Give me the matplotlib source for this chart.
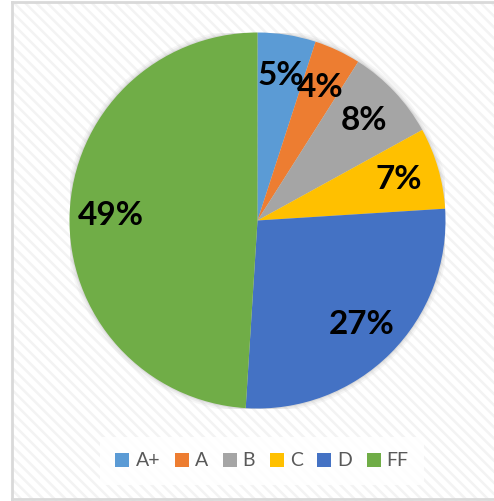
import matplotlib
matplotlib.use("Agg")
import matplotlib.pyplot as plt
from matplotlib.patches import Rectangle, Circle
from matplotlib.lines import Line2D

# ---------------------------------------------------------------------
# Data
# ---------------------------------------------------------------------
grades = ["A+", "A", "B", "C", "D", "FF"]
shares = [5, 4, 8, 7, 27, 49]
colors = ["#5B9BD5", "#ED7D31", "#A5A5A5", "#FFC000", "#4472C4", "#70AD47"]

W, H = 494, 501
plt.rcParams["hatch.linewidth"] = 1.8
fig = plt.figure(figsize=(W / 100, H / 100), dpi=100)
fig.patch.set_facecolor("white")

# Chart area background: white with faint diagonal stripes.
bg = Rectangle((12 / W, 0), 1 - 12 / W, 1 - 2 / H, transform=fig.transFigure,
               facecolor="white", edgecolor="#f3f3f3", hatch="\\\\\\",
               linewidth=0, zorder=0)
fig.add_artist(bg)

# Chart border (left, top, bottom).
border = "#d9d9d9"
fig.add_artist(Line2D([12 / W, 12 / W], [1 / H, 1 - 2 / H], color=border, lw=2))
fig.add_artist(Line2D([12 / W, 1], [1 - 2 / H, 1 - 2 / H], color=border, lw=2))
fig.add_artist(Line2D([12 / W, 1], [2 / H, 2 / H], color=border, lw=2))

# Pie axes: centre (257.5, 220.5) px, radius 188 px.
cx, cy, r = 257.5, 220.5, 188
ax = fig.add_axes([(cx - r) / W, (H - cy - r) / H, 2 * r / W, 2 * r / H])
ax.set_facecolor("none")

# faint shadow around the pie
for k, a in [(1.025, 0.10), (1.015, 0.15), (1.006, 0.25)]:
    ax.add_patch(Circle((0, 0), k, color="#b0b0b0", alpha=a, lw=0, zorder=0))

wedges, texts, autotexts = ax.pie(
    shares,
    colors=colors,
    startangle=90,
    counterclock=False,
    autopct=lambda p: f"{p:.0f}%",
    pctdistance=0.78,
    wedgeprops=dict(linewidth=0),
    textprops=dict(fontsize=24, fontweight="bold", color="black",
                   family=["Lato", "DejaVu Sans"]),
)
for w in wedges:
    w.set_zorder(2)
for t in autotexts:
    t.set_zorder(3)
ax.set_xlim(-1, 1)
ax.set_ylim(-1, 1)
ax.set_aspect("equal")
ax.axis("off")

# Legend
leg = fig.legend(
    wedges, grades,
    loc="center",
    bbox_to_anchor=(262 / W, 1 - 461 / H),
    ncol=6,
    frameon=True,
    fancybox=False,
    handlelength=0.72,
    handleheight=0.72,
    handletextpad=0.31,
    columnspacing=0.75,
    borderpad=0.8,
    borderaxespad=0,
    prop=dict(family=["Lato", "DejaVu Sans"], size=14),
)
leg.get_frame().set_facecolor("white")
leg.get_frame().set_edgecolor("none")
leg.get_frame().set_alpha(0.85)
for t in leg.get_texts():
    t.set_color("#595959")

fig.savefig("out.png", dpi=100)
